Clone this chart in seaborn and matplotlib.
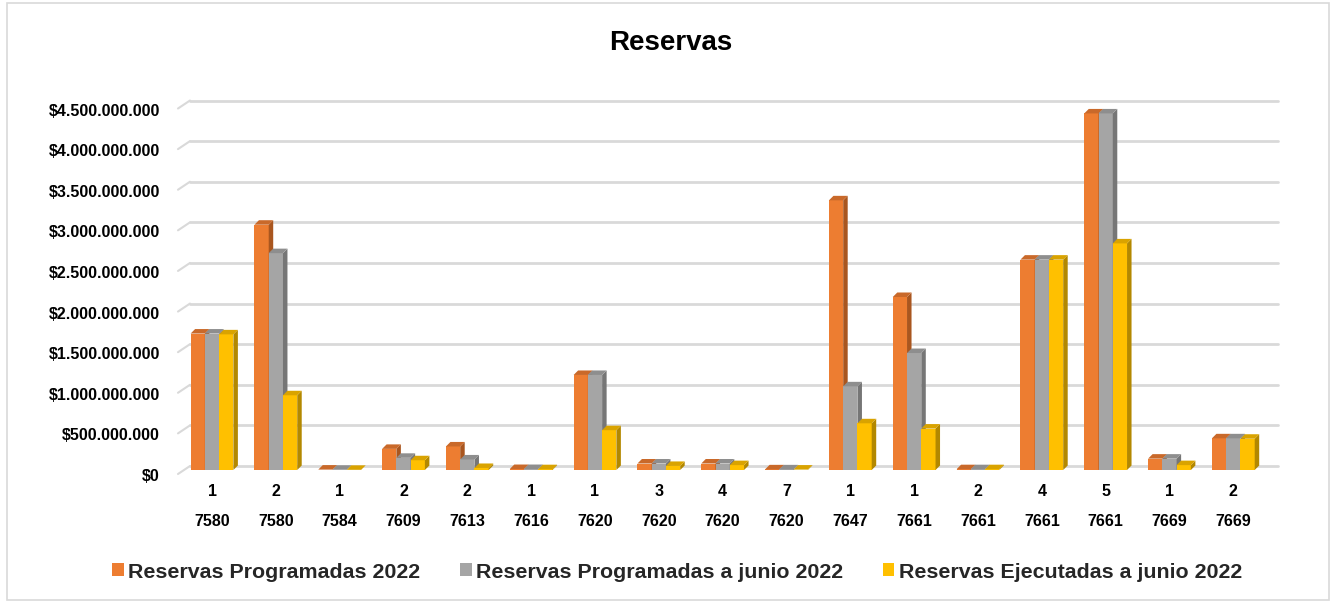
import numpy as np
import pandas as pd
import matplotlib
matplotlib.use("Agg")
import matplotlib.pyplot as plt
import seaborn as sns
from matplotlib.patches import Polygon, Patch, Rectangle
from matplotlib.ticker import FuncFormatter, MultipleLocator
import matplotlib.transforms as mtransforms

# ---- data ----
sub_labels = ["1", "2", "1", "2", "2", "1", "1", "3", "4", "7", "1", "1", "2", "4", "5", "1", "2"]
code_labels = ["7580", "7580", "7584", "7609", "7613", "7616", "7620", "7620", "7620", "7620",
               "7647", "7661", "7661", "7661", "7661", "7669", "7669"]
series_names = ["Reservas Programadas 2022", "Reservas Programadas a junio 2022",
                "Reservas Ejecutadas a junio 2022"]
programadas = [1.68e9, 3.02e9, 0.005e9, 0.26e9, 0.29e9, 0.012e9, 1.17e9, 0.08e9, 0.08e9, 0.008e9,
               3.32e9, 2.13e9, 0.01e9, 2.59e9, 4.39e9, 0.14e9, 0.39e9]
prog_junio = [1.68e9, 2.67e9, 0.003e9, 0.15e9, 0.13e9, 0.012e9, 1.17e9, 0.08e9, 0.08e9, 0.008e9,
              1.03e9, 1.44e9, 0.01e9, 2.59e9, 4.39e9, 0.14e9, 0.39e9]
ejecutadas = [1.67e9, 0.92e9, 0.002e9, 0.12e9, 0.025e9, 0.01e9, 0.49e9, 0.05e9, 0.06e9, 0.005e9,
              0.575e9, 0.51e9, 0.01e9, 2.59e9, 2.79e9, 0.06e9, 0.385e9]

front_colors = ["#ED7D31", "#A5A5A5", "#FFC000"]
top_colors = ["#C9692A", "#8E8E8E", "#D9A300"]
side_colors = ["#A9561F", "#767676", "#B38800"]

keys = [f"{s}|{c}|{i}" for i, (s, c) in enumerate(zip(sub_labels, code_labels))]
rows = []
for name, vals in zip(series_names, [programadas, prog_junio, ejecutadas]):
    for k, v in zip(keys, vals):
        rows.append({"cat": k, "serie": name, "valor": v})
df = pd.DataFrame(rows)

# ---- figure ----
sns.set_style("white")
plt.rcParams["font.family"] = ["Liberation Sans", "DejaVu Sans"]
W, H, DPI = 13.36, 6.02, 100
PT = 72 / DPI  # points per pixel
fig = plt.figure(figsize=(W, H), dpi=DPI)
ax_l, ax_r, ax_b, ax_t = 188, 1278, 470, 104.5
ax = fig.add_axes([ax_l / 1336, (602 - ax_b) / 602, (ax_r - ax_l) / 1336, (ax_b - ax_t) / 602])

sns.barplot(data=df, x="cat", y="valor", hue="serie", order=keys, hue_order=series_names,
            palette=front_colors, saturation=1, width=0.67, ax=ax, legend=False,
            edgecolor="none", linewidth=0)

xlim = (-0.376, 16.70)
ylim = (0, 4.5e9)
ax.set_xlim(*xlim)
ax.set_ylim(*ylim)

px_per_x = (ax_r - ax_l) / (xlim[1] - xlim[0])
px_per_y = (ax_b - ax_t) / (ylim[1] - ylim[0])
depth = 4.5
dxd = depth / px_per_x
dyd = depth / px_per_y

# 3D-looking faces
n = len(keys)
bars_by_series = [[], [], []]
for idx, p in enumerate(ax.patches[: 3 * n]):
    bars_by_series[idx // n].append(p)
for s, bars in enumerate(bars_by_series):
    for p in bars:
        x0 = p.get_x()
        w = p.get_width()
        h = p.get_height()
        x1 = x0 + w
        p.set_zorder(3 + s)
        side = Polygon([(x1, 0), (x1 + dxd, dyd), (x1 + dxd, h + dyd), (x1, h)],
                       closed=True, facecolor=side_colors[s], edgecolor="none", zorder=3 + s)
        top = Polygon([(x0, h), (x0 + dxd, h + dyd), (x1 + dxd, h + dyd), (x1, h)],
                      closed=True, facecolor=top_colors[s], edgecolor="none", zorder=3 + s)
        ax.add_patch(side)
        ax.add_patch(top)

for sp in ax.spines.values():
    sp.set_visible(False)

# gridlines on the back wall (shifted up/right by the depth), with slanted floor connectors
ax.yaxis.set_major_locator(MultipleLocator(5e8))
back = ax.transData + mtransforms.ScaledTranslation(0, 4 / DPI, fig.dpi_scale_trans)
for v in np.arange(0, 4.5e9 + 1, 5e8):
    ax.plot([xlim[0] + 2 / px_per_x, xlim[1]], [v, v], color="#D9D9D9", linewidth=2,
            transform=back, clip_on=False, zorder=0.5)
    ax.plot([xlim[0] - 10 / px_per_x, xlim[0] + 2 / px_per_x], [v - 8 / px_per_y, v],
            color="#D9D9D9", linewidth=1.5, transform=back, clip_on=False, zorder=0.5)

ax.yaxis.set_major_formatter(FuncFormatter(lambda v, pos: "${:,.0f}".format(v).replace(",", ".")))
ax.tick_params(axis="y", length=0, pad=28 * PT, labelsize=11.5)
off = mtransforms.ScaledTranslation(0, -5 / DPI, fig.dpi_scale_trans)
for lab in ax.get_yticklabels():
    lab.set_fontweight("bold")
    lab.set_color("#000000")
    lab.set_transform(lab.get_transform() + off)

ax.set_xticks(range(n))
ax.set_xticklabels(sub_labels, fontweight="bold", fontsize=11.5, color="#000000")
ax.tick_params(axis="x", length=0, pad=14 * PT)
ax.set_xlabel("")
ax.set_ylabel("")

trans2 = mtransforms.blended_transform_factory(ax.transData, ax.transAxes) + \
    mtransforms.ScaledTranslation(0, -(522 - ax_b) / DPI, fig.dpi_scale_trans)
for i, c in enumerate(code_labels):
    ax.text(i, 0, c, transform=trans2, ha="center", va="center", fontsize=11.5,
            fontweight="bold", color="#000000")

# title
fig.text(671 / 1336, 1 - 43 / 602, "Reservas", ha="center", va="center", fontsize=20,
         fontweight="bold", color="#000000")

# legend
handles = [Patch(facecolor=c, edgecolor="none", label=l) for c, l in zip(front_colors, series_names)]
fig.legend(handles=handles, loc="center", bbox_to_anchor=(677 / 1336, 30 / 602), ncol=3,
           frameon=False, prop={"weight": "bold", "size": 15.4},
           handlelength=0.55, handleheight=0.55, handletextpad=0.2, columnspacing=1.85)

# outer frame
fig.patches.append(Rectangle((7 / 1336, 2 / 602), 1322 / 1336, 597 / 602, transform=fig.transFigure,
                             fill=False, edgecolor="#D9D9D9", linewidth=1.2))

fig.savefig("out.png", dpi=DPI, facecolor="white")
